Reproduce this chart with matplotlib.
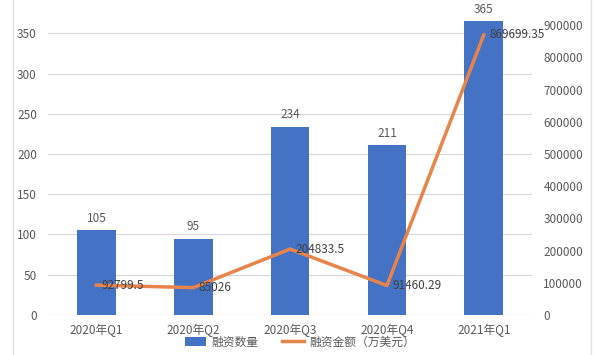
import matplotlib
matplotlib.use("Agg")
import matplotlib.pyplot as plt
from matplotlib.lines import Line2D
from matplotlib.patches import Patch
from matplotlib.ticker import FuncFormatter

plt.rcParams['font.family'] = ['Noto Sans CJK SC', 'DejaVu Sans']

# Data
quarters = ['2020年Q1', '2020年Q2', '2020年Q3', '2020年Q4', '2021年Q1']
deal_counts = [105, 95, 234, 211, 365]
deal_amounts = [92799.5, 85026, 204833.5, 91460.29, 869699.35]
amount_labels = ['92799.5', '85026', '204833.5', '91460.29', '869699.35']

bar_color = '#4472C4'
line_color = '#E8844A'
text_color = '#595959'
grid_color = '#D9D9D9'

fig = plt.figure(figsize=(6, 3.55), dpi=100)
ax = fig.add_axes([0.08, 0.1127, 0.807, 0.907])
ax2 = ax.twinx()

x = list(range(len(quarters)))

# Bars for deal count
ax.bar(x, deal_counts, width=0.4, color=bar_color, zorder=2)
for xi, v in zip(x, deal_counts):
    ax.annotate(str(v), (xi, v), xytext=(0, 4), textcoords='offset points',
                ha='center', va='bottom', fontsize=8.5, color=text_color)

ax.set_ylim(0, 400)
ax.set_yticks(range(0, 351, 50))
ax.set_xlim(-0.5, len(quarters) - 0.5)
ax.set_xticks(x)
ax.set_xticklabels(quarters)
ax.yaxis.grid(True, color=grid_color, linewidth=0.9, zorder=0)
ax.set_axisbelow(True)

# Line for deal amount
ax2.plot(x, deal_amounts, color=line_color, linewidth=2.5, zorder=3)
for xi, v, lab in zip(x, deal_amounts, amount_labels):
    ax2.annotate(lab, (xi, v), xytext=(4, 0), textcoords='offset points',
                 ha='left', va='center', fontsize=8.5, color='#404040')
ax2.set_ylim(0, 1000000)
ax2.set_yticks(range(0, 900001, 100000))
ax2.yaxis.set_major_formatter(FuncFormatter(lambda v, p: f'{int(v)}'))

for a in (ax, ax2):
    for s in a.spines.values():
        s.set_visible(False)
    a.tick_params(length=0, labelsize=8.5, labelcolor=text_color)
ax.tick_params(axis='y', pad=8)
ax.tick_params(axis='x', pad=6)
ax2.tick_params(axis='y', pad=8)

# faint frame edges from the screenshot
fig.add_artist(Line2D([0.022, 0.022], [0, 1], color='#E0E0E0', linewidth=1))
fig.add_artist(Line2D([0.985, 0.985], [0, 1], color='#E0E0E0', linewidth=1))

handles = [Patch(facecolor=bar_color), Line2D([0], [0], color=line_color, linewidth=2.5)]
fig.legend(handles, ['融资数量', '融资金额（万美元）'], loc='lower center',
           bbox_to_anchor=(0.5, 0.0), ncol=2, frameon=False, fontsize=8.5,
           labelcolor=text_color, handlelength=1.8, columnspacing=2.0,
           borderpad=0.05, handletextpad=0.5)

fig.savefig('out.png', dpi=100)
